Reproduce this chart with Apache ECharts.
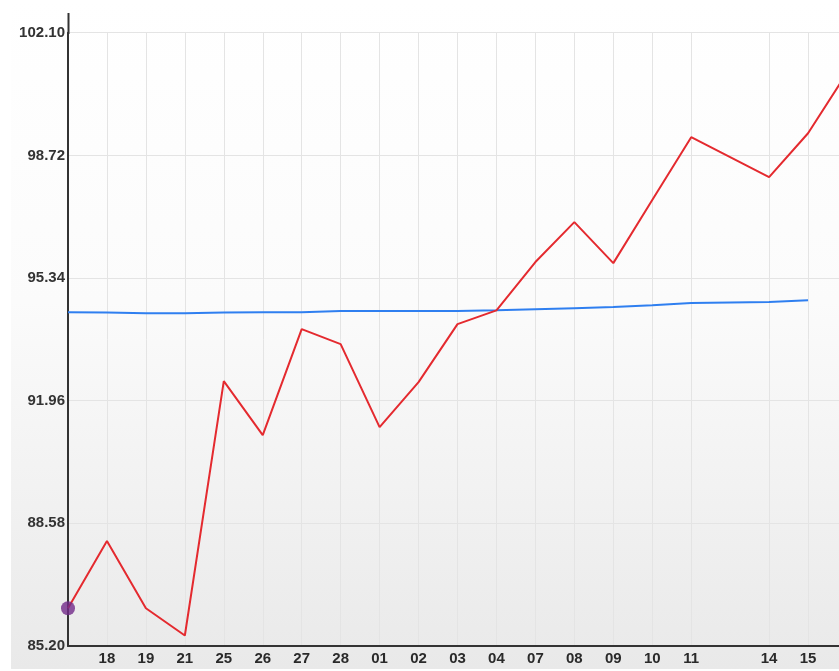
<!DOCTYPE html>
<html>
<head>
<meta charset="utf-8">
<script src="https://cdn.jsdelivr.net/npm/echarts@6/dist/echarts.min.js"></script>
<style>html,body{margin:0;padding:0;background:#fff}#c{width:839px;height:671px}</style>
</head>
<body>
<div id="c"></div>
<script>
var categories = ['', '18', '19', '21', '25', '26', '27', '28', '01', '02', '03', '04', '07', '08', '09', '10', '11', '', '14', '15', ''];
var priceValues = [86.24, 88.09, 86.24, 85.49, 92.50, 91.01, 93.93, 93.52, 91.23, 92.47, 94.07, 94.45, 95.78, 96.88, 95.75, 97.49, 99.22, null, 98.12, 99.33, 101.0];
var averageValues = [94.40, 94.39, 94.37, 94.37, 94.39, 94.40, 94.40, 94.43, 94.43, 94.43, 94.43, 94.45, 94.48, 94.51, 94.54, 94.59, 94.65, null, 94.68, 94.73, null];
var yTicks = [85.20, 88.58, 91.96, 95.34, 98.72, 102.10];

var chart = echarts.init(document.getElementById('c'), null, {renderer: 'canvas'});
var font = 'Liberation Sans, Arial, sans-serif';
chart.setOption({
  animation: false,
  graphic: [
    {type: 'rect', z: -10, silent: true, shape: {x: 11, y: 0, width: 828, height: 669},
     style: {fill: new echarts.graphic.LinearGradient(0, 0, 0, 1, [
       {offset: 0, color: '#ffffff'}, {offset: 0.45, color: '#fbfbfb'}, {offset: 1, color: '#e9e9e9'}])}},
    {type: 'line', z: 10, silent: true, shape: {x1: 68.5, y1: 13, x2: 68.5, y2: 34}, style: {stroke: '#333', lineWidth: 2}}
  ],
  grid: {left: 68, width: 779, top: 32.7, height: 613.3, containLabel: false, outerBoundsMode: 'none'},
  xAxis: {
    type: 'category', data: categories, boundaryGap: false,
    axisLine: {lineStyle: {color: '#333', width: 2}},
    axisTick: {show: false},
    axisLabel: {interval: 0, color: '#2a2a2a', fontFamily: font, fontWeight: 'bold', fontSize: 15, margin: 5},
    splitLine: {show: true, interval: function (i, v) { return v !== ''; }, lineStyle: {color: '#e4e4e4', width: 1}}
  },
  yAxis: {
    type: 'value', min: yTicks[0], max: yTicks[yTicks.length - 1], interval: 3.38,
    axisLine: {show: true, lineStyle: {color: '#333', width: 2}},
    axisTick: {show: false},
    axisLabel: {color: '#333', fontFamily: font, fontWeight: 'bold', fontSize: 15, margin: 3,
      padding: [0, 0, 9, 0], formatter: function (v) { return v.toFixed(2); }},
    splitLine: {show: true, lineStyle: {color: '#e4e4e4', width: 1}}
  },
  series: [
    {type: 'line', data: averageValues, connectNulls: true, symbol: 'none',
     lineStyle: {color: '#2f7ff0', width: 2}, z: 3},
    {type: 'line', data: priceValues, connectNulls: true, symbol: 'none',
     lineStyle: {color: '#e42a2f', width: 2}, z: 4},
    {type: 'scatter', data: [[0, priceValues[0]]], symbol: 'circle', symbolSize: 14,
     itemStyle: {color: '#722b8a'}, z: 5}
  ]
});
</script>
</body>
</html>
